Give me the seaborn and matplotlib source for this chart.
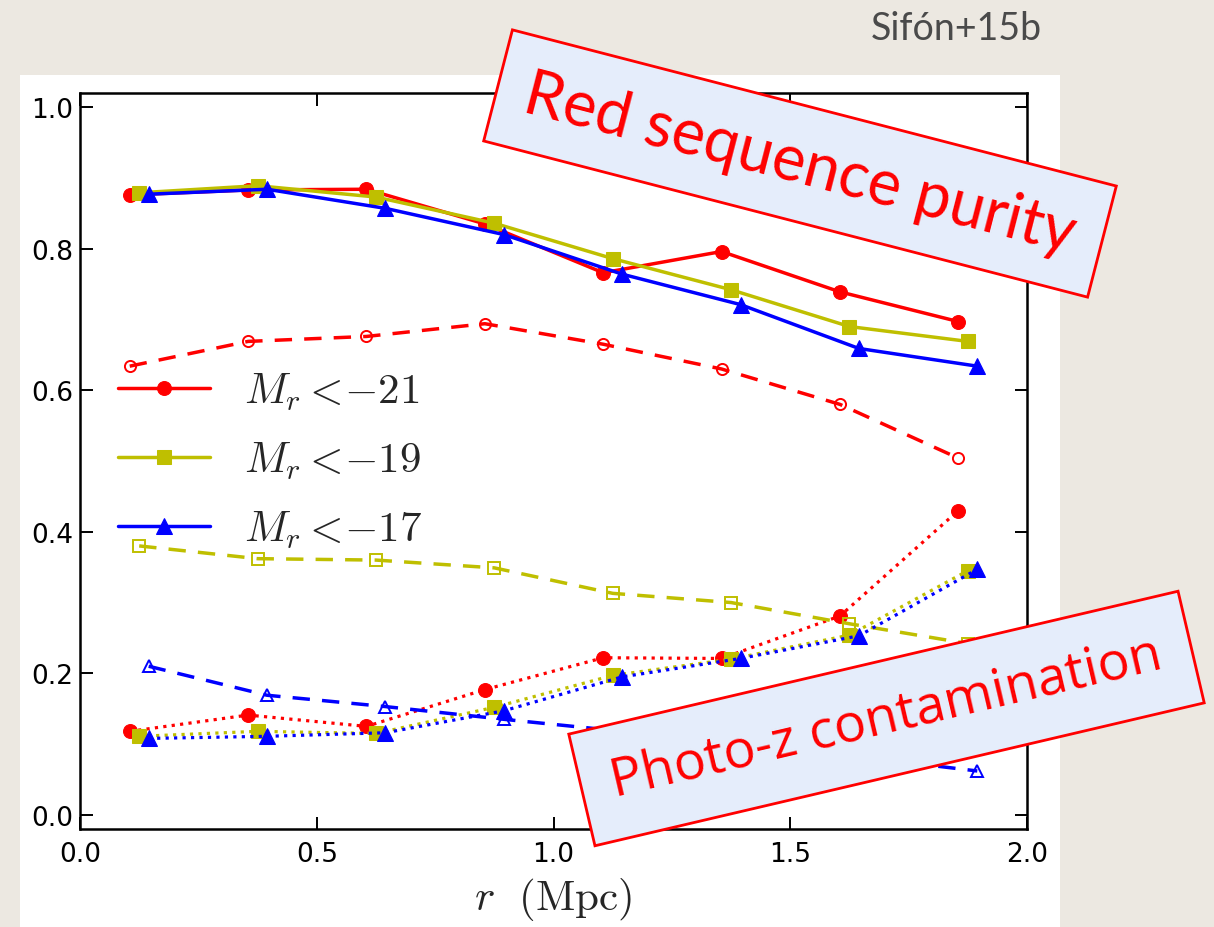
import matplotlib
matplotlib.use("Agg")
import matplotlib.pyplot as plt
import seaborn as sns
import pandas as pd
from matplotlib.patches import Rectangle

# radial bins (Mpc), slightly offset per magnitude cut
r_m21 = [0.105, 0.355, 0.605, 0.855, 1.105, 1.355, 1.605, 1.855]
r_m19 = [0.125, 0.375, 0.625, 0.875, 1.125, 1.375, 1.625, 1.875]
r_m17 = [0.145, 0.395, 0.645, 0.895, 1.145, 1.395, 1.645, 1.895]

# red sequence purity (solid)
purity_m21 = [0.876, 0.883, 0.884, 0.835, 0.766, 0.796, 0.739, 0.697]
purity_m19 = [0.879, 0.889, 0.873, 0.836, 0.786, 0.742, 0.690, 0.669]
purity_m17 = [0.877, 0.884, 0.857, 0.820, 0.764, 0.721, 0.659, 0.634]

# dashed, open markers
dashed_m21 = [0.634, 0.669, 0.676, 0.694, 0.665, 0.630, 0.580, 0.504]
dashed_m19 = [0.380, 0.362, 0.360, 0.349, 0.313, 0.300, 0.270, 0.242]
dashed_m17 = [0.210, 0.169, 0.153, 0.135, 0.118, 0.098, 0.082, 0.062]

# photo-z contamination (dotted)
contam_m21 = [0.118, 0.141, 0.125, 0.177, 0.222, 0.221, 0.281, 0.430]
contam_m19 = [0.111, 0.118, 0.115, 0.152, 0.197, 0.220, 0.254, 0.345]
contam_m17 = [0.108, 0.111, 0.116, 0.147, 0.195, 0.221, 0.253, 0.347]

labels = [r"$M_r<\!{-}21$", r"$M_r<\!{-}19$", r"$M_r<\!{-}17$"]
colors = ["#ff0000", "#bfbf00", "#0000ff"]
markers = ["o", "s", "^"]
xticks = [0.0, 0.5, 1.0, 1.5, 2.0]
yticks = [0.0, 0.2, 0.4, 0.6, 0.8, 1.0]

sns.set_theme(style="ticks")
plt.rcParams["font.family"] = ["DejaVu Sans"]
plt.rcParams["mathtext.fontset"] = "cm"
plt.rcParams["xtick.direction"] = "in"
plt.rcParams["ytick.direction"] = "in"

W, H = 1214, 928
fig = plt.figure(figsize=(W / 100, H / 100), dpi=100, facecolor="#ece8e1")
fig.patches.append(Rectangle((20 / W, 0), 1040 / W, 1 - 76 / H, transform=fig.transFigure,
                             facecolor="white", edgecolor="none", zorder=-10))
ax = fig.add_axes([80 / W, 1 - 830 / H, 947 / W, 736 / H])
ax.set_facecolor("white")

groups = [
    (r_m21, purity_m21, dashed_m21, contam_m21),
    (r_m19, purity_m19, dashed_m19, contam_m19),
    (r_m17, purity_m17, dashed_m17, contam_m17),
]
handles = []
for (r, pur, dsh, con), lab, c, m in zip(groups, labels, colors, markers):
    df = pd.DataFrame({"r": r, "purity": pur, "dashed": dsh, "contam": con})
    ms = 11 if m == "^" else 10
    sns.lineplot(data=df, x="r", y="purity", ax=ax, color=c, marker=m, markersize=ms,
                 markeredgecolor=c, linewidth=2.5, sort=False, legend=False)
    handles.append(ax.get_lines()[-1])
    sns.lineplot(data=df, x="r", y="dashed", ax=ax, color=c, marker=m, markersize=8,
                 markerfacecolor="none", markeredgecolor=c, markeredgewidth=1.4,
                 linestyle=(0, (5, 3.5)), linewidth=2.5, sort=False, legend=False)
    sns.lineplot(data=df, x="r", y="contam", ax=ax, color=c, marker=m, markersize=ms,
                 markeredgecolor=c, linestyle=":", linewidth=2.3, sort=False, legend=False)

ax.set_xlim(0, 2)
ax.set_ylim(-0.02, 1.02)
ax.set_xticks(xticks)
ax.set_yticks(yticks)
ax.set_xticklabels([f"{t:.1f}" for t in xticks])
ax.set_yticklabels([f"{t:.1f}" for t in yticks])
ax.tick_params(axis="both", which="major", direction="in", length=9, width=1.4,
               labelsize=19, colors="black", top=True, right=True)
ax.tick_params(axis="x", pad=9)
ax.tick_params(axis="y", pad=5)
for s in ax.spines.values():
    s.set_linewidth(1.8)
    s.set_color("black")
ax.set_ylabel("")
ax.set_xlabel(r"$r\ \ \mathrm{(Mpc)}$", fontsize=31, va="center")
ax.xaxis.set_label_coords(0.5, -0.095)

ax.legend(handles, labels, loc="upper left", bbox_to_anchor=(0.04, 0.624), frameon=False,
          fontsize=31, handlelength=2.15, handletextpad=0.78, labelspacing=0.62,
          borderpad=0, borderaxespad=0)

fig.text(1042 / W, 1 - 40 / H, "Sifón+15b", ha="right", va="baseline",
         fontsize=27, color="#4a4a4a", family=["Lato", "DejaVu Sans"])

fig.text(800 / W, 1 - 164.5 / H, "Red sequence purity", rotation=-14.5, rotation_mode="anchor",
         ha="center", va="center", fontsize=45.4, color="red", family=["Lato", "DejaVu Sans"],
         bbox=dict(boxstyle="square,pad=0.45", facecolor="#e5edfb", edgecolor="red", linewidth=2),
         zorder=10)
fig.text(886.5 / W, 1 - 719.5 / H, "Photo-z contamination", rotation=13.2, rotation_mode="anchor",
         ha="center", va="center", fontsize=38.3, color="red", family=["Open Sans", "DejaVu Sans"],
         bbox=dict(boxstyle="square,pad=0.575", facecolor="#e5edfb", edgecolor="red", linewidth=2),
         zorder=10)

fig.savefig("out.png", dpi=100, facecolor=fig.get_facecolor())
